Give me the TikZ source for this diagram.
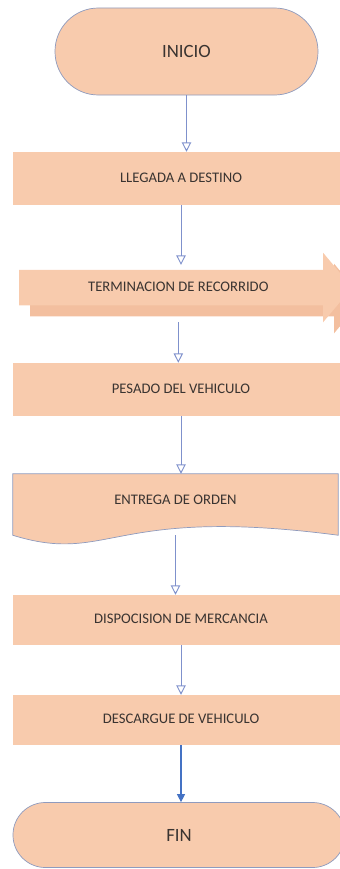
\documentclass[tikz,border=0pt]{standalone}
\usepackage{fontspec}
\setmainfont{Carlito}
\usetikzlibrary{arrows.meta,shapes.arrows,shadows,calc,backgrounds}
\definecolor{peach}{HTML}{F8CBAD}
\definecolor{peachshade}{HTML}{F3BF9F}
\definecolor{edge}{HTML}{8F9BBE}
\definecolor{flow}{HTML}{7F91CC}
\definecolor{flowdark}{HTML}{4472C4}
\definecolor{ink}{HTML}{3A3431}

\begin{document}
\begin{tikzpicture}[
  x=0.03cm, y=-0.03cm,
  font=\fontsize{12.5}{14}\selectfont, text=ink,
  ends/.style={draw=edge, fill=peach, line width=0.6pt,
               font=\fontsize{16}{18}\selectfont},
  box/.style={fill=peach, minimum width=10.08cm, text height=8.5pt, text depth=2pt},
  flecha/.style={single arrow, fill=peach, single arrow head extend=0.51cm,
                 single arrow tip angle=100, minimum height=9.99cm,
                 text height=8.5pt, text depth=2pt, inner ysep=9.7pt,
                 drop shadow={shadow xshift=0.33cm, shadow yshift=-0.33cm,
                              opacity=1, fill=peachshade}},
  ar/.style={draw=flow, line width=0.8pt,
             -{Triangle[open, length=2.8mm, width=2.8mm]}},
  arf/.style={draw=flowdark, line width=0.9pt,
              -{Triangle[length=2.4mm, width=2.4mm]}}
]
\useasboundingbox (0,0) rectangle (340,869);
\clip (0,0) rectangle (340,869);

% ---- Terminals and steps ----------------------------------------------
\node[ends, minimum width=7.89cm, minimum height=2.61cm, rounded corners=1.3cm]
  (ini) at (186.5,51.5) {INICIO};
\node[box, minimum height=1.59cm] (lleg) at (181,178.5) {LLEGADA A DESTINO};
\node[flecha, anchor=tail] (rec) at (19,287.5) {TERMINACION DE RECORRIDO};
\node[box, minimum height=1.59cm] (pes) at (181,389.5) {PESADO DEL VEHICULO};
\node[minimum width=9.75cm, minimum height=1.83cm, text height=8.5pt,
      text depth=9pt] (entr) at (175.5,504.5) {ENTREGA DE ORDEN};
\begin{scope}[on background layer]
\draw[edge, fill=peach, line width=0.6pt]
  (entr.south east) -- (entr.north east) -- (entr.north west) -- (entr.south west)
  .. controls ($(entr.south west)+(97,30)$) and ($(entr.south east)+(-228,-30)$)
  .. (entr.south east) -- cycle;
\end{scope}
\node[box, minimum height=1.5cm] (disp) at (181,620) {DISPOCISION DE MERCANCIA};
\node[box, minimum height=1.5cm] (desc) at (181,720) {DESCARGUE DE VEHICULO};
\node[ends, minimum width=9.96cm, minimum height=1.95cm, rounded corners=0.97cm]
  (fin) at (179,835) {FIN};

% ---- Flow --------------------------------------------------------------
\draw[ar] (ini.south) -- (ini.south |- lleg.north);
\draw[ar, shorten >=4pt] (lleg.south) -- (lleg.south |- rec.north);
\draw[ar, shorten <=0.5cm] (rec.south) -- (rec.south |- pes.north);
\draw[ar] (pes.south) -- (pes.south |- entr.north);
\draw[ar] (entr.south) -- (entr.south |- disp.north);
\draw[ar] (disp.south) -- (desc.north);
\draw[arf] (desc.south) -- (desc.south |- fin.north);
\end{tikzpicture}
\end{document}
